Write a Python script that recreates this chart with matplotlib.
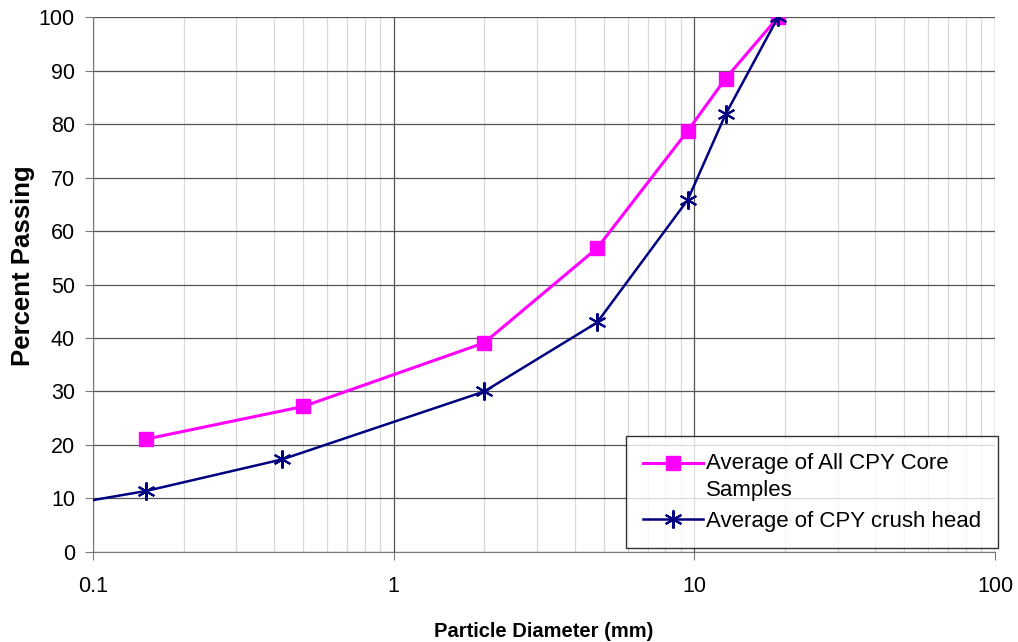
import numpy as np
import matplotlib.pyplot as plt
from matplotlib.legend_handler import HandlerLine2D
from matplotlib.ticker import FixedLocator, NullFormatter

plt.rcParams['font.family'] = ['Liberation Sans', 'DejaVu Sans']

# particle diameter (mm) and percent passing
core_x = [0.15, 0.5, 2.0, 4.75, 9.5, 12.7, 19.0]
core_y = [21.1, 27.2, 39.1, 56.8, 78.7, 88.5, 100.0]

crush_x = [0.1, 0.15, 0.425, 2.0, 4.75, 9.5, 12.7, 19.0]
crush_y = [9.7, 11.4, 17.3, 30.0, 42.9, 65.8, 81.8, 100.0]

core_label = "Average of All CPY Core\nSamples"
crush_label = "Average of CPY crush head"


# legend handle sitting on the first line of a two-line label
class FirstLineHandler(HandlerLine2D):
    def __init__(self, dy, **kw):
        super().__init__(**kw)
        self.dy = dy

    def create_artists(self, legend, orig_handle, xdescent, ydescent,
                       width, height, fontsize, trans):
        arts = super().create_artists(legend, orig_handle, xdescent, ydescent,
                                      width, height, fontsize, trans)
        for a in arts:
            a.set_ydata(np.asarray(a.get_ydata()) + self.dy)
        return arts


fig = plt.figure(figsize=(10.18, 6.42), dpi=100)
ax = fig.add_axes([0.0914, 0.1402, 0.886, 0.8333])

core_line, = ax.plot(core_x, core_y, color='#ff00ff', lw=2.2, marker='s', ms=9.5,
                     label=core_label, zorder=3)
ax.plot(crush_x, crush_y, color='#000080', lw=1.8, marker=(6, 2, 0), ms=13,
        mew=1.5, markevery=list(range(1, len(crush_x))), label=crush_label, zorder=3)

ax.set_xscale('log')
ax.set_xlim(0.1, 100)
ax.set_ylim(0, 100)
ax.set_yticks(range(0, 101, 10))
ax.set_xticks([0.1, 1, 10, 100])
ax.set_xticklabels(['0.1', '1', '10', '100'])
ax.xaxis.set_minor_locator(FixedLocator(
    [m * d for d in (0.1, 1, 10) for m in range(2, 10)]))
ax.xaxis.set_minor_formatter(NullFormatter())

ax.grid(True, which='major', color='#555555', lw=0.9)
ax.grid(True, which='minor', axis='x', color='#d8d8d8', lw=0.9)
ax.set_axisbelow(True)

for s in ('top', 'right'):
    ax.spines[s].set_visible(False)
for s in ('left', 'bottom'):
    ax.spines[s].set_color('#777777')
ax.tick_params(which='major', length=6, color='#777777', labelsize=15.5, pad=7)
ax.tick_params(axis='x', which='major', pad=11)
ax.tick_params(which='minor', length=0)

ax.set_xlabel('Particle Diameter (mm)', fontsize=14.5, fontweight='bold', labelpad=18)
ax.set_ylabel('Percent Passing', fontsize=18.5, fontweight='bold')
ax.yaxis.set_label_coords(-0.064, 0.536)

leg = ax.legend(loc='lower right', bbox_to_anchor=(1.003, 0.007), fontsize=16,
                frameon=True, fancybox=False, edgecolor='black',
                borderpad=0.75, handlelength=2.7, labelspacing=0.45,
                handletextpad=0.15, borderaxespad=0,
                handler_map={core_line: FirstLineHandler(9.8)})
leg.get_frame().set_linewidth(1.0)
for t in leg.get_texts():
    t.set_linespacing(1.35)

fig.savefig('out.png', dpi=100)
